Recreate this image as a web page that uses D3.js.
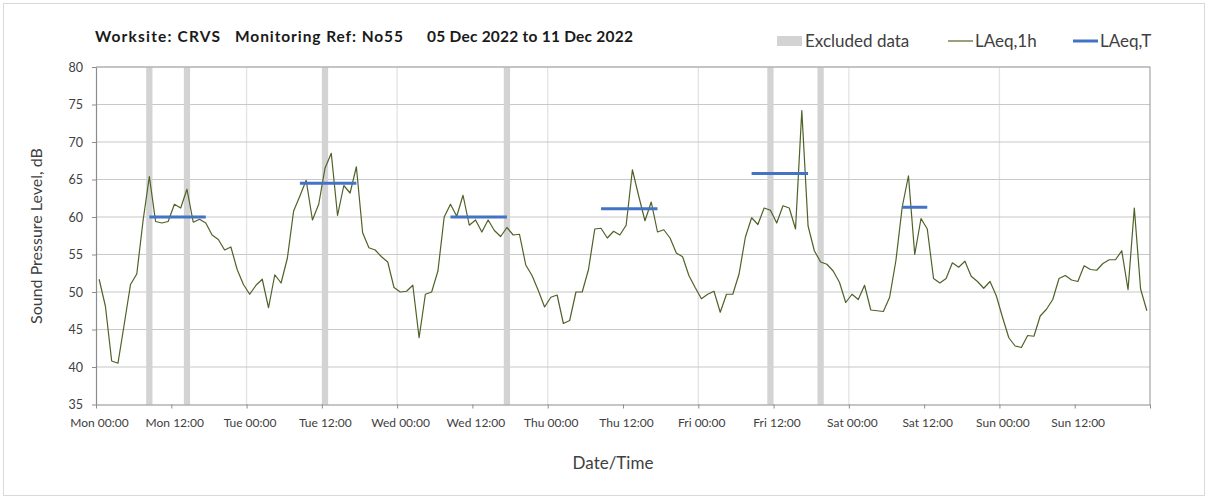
<!DOCTYPE html>
<html><head><meta charset="utf-8">
<script src="https://cdn.jsdelivr.net/npm/d3@7"></script>
<style>
html,body{margin:0;padding:0;background:#fff;}
text{font-family:Lato,"Open Sans",sans-serif;}
</style></head>
<body><svg id="chart" width="1208" height="499"></svg>
<script>
// hourly LAeq,1h values, Mon 05 Dec 2022 00:00 onward (168 hours)
const laeq1h = [
51.7,48.1,40.8,40.5,45.7,51.0,52.4,59.5,65.4,59.4,59.2,59.4,61.7,61.2,63.7,59.3,59.7,59.2,57.6,57.0,55.6,56.0,53.0,51.0,
49.7,50.9,51.7,47.9,52.3,51.2,54.5,60.8,62.8,64.9,59.6,61.7,66.5,68.5,60.2,64.2,63.2,66.7,57.9,55.9,55.6,54.7,54.0,50.6,
50.0,50.1,50.9,43.9,49.7,50.0,52.8,60.0,61.7,60.1,62.9,58.9,59.6,58.0,59.6,58.2,57.4,58.6,57.6,57.7,53.6,52.2,50.2,48.0,
49.3,49.6,45.8,46.2,50.0,50.0,53.0,58.4,58.5,57.2,58.1,57.6,58.9,66.3,62.8,59.5,62.0,58.0,58.3,57.2,55.2,54.7,52.2,50.6,
49.1,49.7,50.1,47.3,49.7,49.7,52.4,57.3,59.9,59.0,61.2,60.9,59.2,61.5,61.2,58.4,74.2,58.8,55.5,54.0,53.7,52.8,51.3,48.6,
49.7,49.0,50.9,47.6,47.5,47.4,49.3,54.2,61.3,65.5,55.0,59.8,58.4,51.8,51.2,51.8,53.9,53.3,54.1,52.1,51.4,50.5,51.4,49.5,
46.6,43.9,42.8,42.6,44.2,44.1,46.8,47.7,49.0,51.8,52.2,51.6,51.4,53.5,53.0,52.9,53.8,54.3,54.3,55.5,50.3,61.2,50.4,47.5
];
// excluded hours (hour index from Mon 00:00)
const excludedHours = [8, 14, 36, 65, 107, 115];
// LAeq,T periods: start hour, end hour, level
const periodStart = [8, 32, 56, 80, 104, 128];
const periodEnd   = [17, 41, 65, 89, 113, 132];
const periodLevel = [60.0, 64.5, 60.0, 61.1, 65.8, 61.3];
const yTicks = [35,40,45,50,55,60,65,70,75,80];
const titleParts = ["Worksite: CRVS", "Monitoring Ref: No55", "05 Dec 2022 to 11 Dec 2022"];

const svg = d3.select("#chart");
const W = 1208, H = 499;
const L = 96, R = 1150, T = 67, B = 404.5;
const t0 = Date.UTC(2022, 11, 5, 0, 0);
const HOUR = 3600e3;
const hd = h => new Date(t0 + h * HOUR);

const x = d3.scaleUtc().domain([hd(0), hd(168)]).range([L, R]);
const y = d3.scaleLinear().domain([35, 80]).range([B, T]);

// outer border
svg.append("rect").attr("x", 3.5).attr("y", 3.5).attr("width", W - 7).attr("height", H - 7)
  .attr("fill", "#fff").attr("stroke", "#d9d9d9");

// vertical day gridlines
const dayTicks = d3.range(24, 168, 24).map(hd);
svg.append("g").selectAll("line").data(dayTicks).join("line")
  .attr("x1", d => x(d)).attr("x2", d => x(d)).attr("y1", T).attr("y2", B)
  .attr("stroke", "#e3e3e3").attr("stroke-width", 1.3);

// horizontal gridlines
svg.append("g").selectAll("line").data(yTicks.filter(v => v > 35)).join("line")
  .attr("x1", L).attr("x2", R).attr("y1", d => y(d)).attr("y2", d => y(d))
  .attr("stroke", "#c8c8c8").attr("stroke-width", 1.2);

// excluded data bars
svg.append("g").selectAll("rect").data(excludedHours).join("rect")
  .attr("x", h => x(hd(h))).attr("width", h => x(hd(h + 1)) - x(hd(h)))
  .attr("y", T).attr("height", B - T).attr("fill", "#d3d3d3");

// plot border (top, right)
svg.append("path").attr("d", `M${L},${T}H${R}V${B}`).attr("fill", "none")
  .attr("stroke", "#a6a6a6").attr("stroke-width", 1.2);

// axes
const xTicksAll = d3.range(0, 169, 12).map(hd);
const xAxis = d3.axisBottom(x).tickValues(xTicksAll).tickSize(4).tickSizeOuter(0)
  .tickFormat((d, i) => i < 14 ? d3.utcFormat("%a %H:%M")(d) : "");
const gx = svg.append("g").attr("transform", `translate(0,${B})`).call(xAxis);
gx.select(".domain").attr("stroke", "#8c8c8c").attr("stroke-width", 1.2);
gx.selectAll(".tick line").attr("stroke", "#8c8c8c");
gx.selectAll(".tick text").attr("font-size", 12).attr("fill", "#404040")
  .attr("dy", 0).attr("y", 22).attr("dx", 3).attr("font-family", "Lato");

const yAxis = d3.axisLeft(y).tickValues(yTicks).tickSize(4).tickSizeOuter(0).tickFormat(d3.format("d"));
const gy = svg.append("g").attr("transform", `translate(${L},0)`).call(yAxis);
gy.select(".domain").attr("stroke", "#8c8c8c").attr("stroke-width", 1.2);
gy.selectAll(".tick line").attr("stroke", "#8c8c8c");
gy.selectAll(".tick text").attr("font-size", 12.5).attr("fill", "#404040")
  .attr("x", -13).attr("font-family", "Lato");

// LAeq,1h line
const line = d3.line().x((d, i) => x(hd(i + 0.5))).y(d => y(d));
svg.append("path").datum(laeq1h).attr("d", line).attr("fill", "none")
  .attr("stroke", "#4f6228").attr("stroke-width", 1.2).attr("stroke-linejoin", "round");

// LAeq,T lines
svg.append("g").selectAll("line").data(periodLevel).join("line")
  .attr("x1", (d, i) => x(hd(periodStart[i] + 0.5)))
  .attr("x2", (d, i) => x(hd(periodEnd[i] + 0.5)))
  .attr("y1", d => y(d)).attr("y2", d => y(d))
  .attr("stroke", "#4472c4").attr("stroke-width", 3);

// title
const titleX = [95, 235, 427];
const titleW = [125, 168, 206];
svg.append("g").selectAll("text").data(titleParts).join("text")
  .attr("x", (d, i) => titleX[i]).attr("y", 42)
  .attr("textLength", (d, i) => titleW[i]).attr("lengthAdjust", "spacing")
  .attr("font-size", 15.5).attr("font-weight", "bold").attr("fill", "#1a1a1a").text(d => d);

// legend
const lg = svg.append("g").attr("font-size", 17).attr("fill", "#404040");
lg.append("rect").attr("x", 777).attr("y", 36).attr("width", 25).attr("height", 10).attr("fill", "#d3d3d3");
lg.append("text").attr("x", 805).attr("y", 47).text("Excluded data");
lg.append("line").attr("x1", 948).attr("x2", 973).attr("y1", 41).attr("y2", 41).attr("stroke", "#4f6228").attr("stroke-width", 1.2);
lg.append("text").attr("x", 975).attr("y", 47).text("LAeq,1h");
lg.append("line").attr("x1", 1073).attr("x2", 1098).attr("y1", 41).attr("y2", 41).attr("stroke", "#4472c4").attr("stroke-width", 3);
lg.append("text").attr("x", 1100).attr("y", 47).text("LAeq,T");

// axis titles
svg.append("text").attr("x", 613).attr("y", 469).attr("text-anchor", "middle")
  .attr("font-size", 17).attr("fill", "#404040").text("Date/Time");
svg.append("text").attr("transform", "translate(42,236) rotate(-90)").attr("text-anchor", "middle")
  .attr("font-size", 16).attr("fill", "#404040").text("Sound Pressure Level, dB");
</script></body></html>
